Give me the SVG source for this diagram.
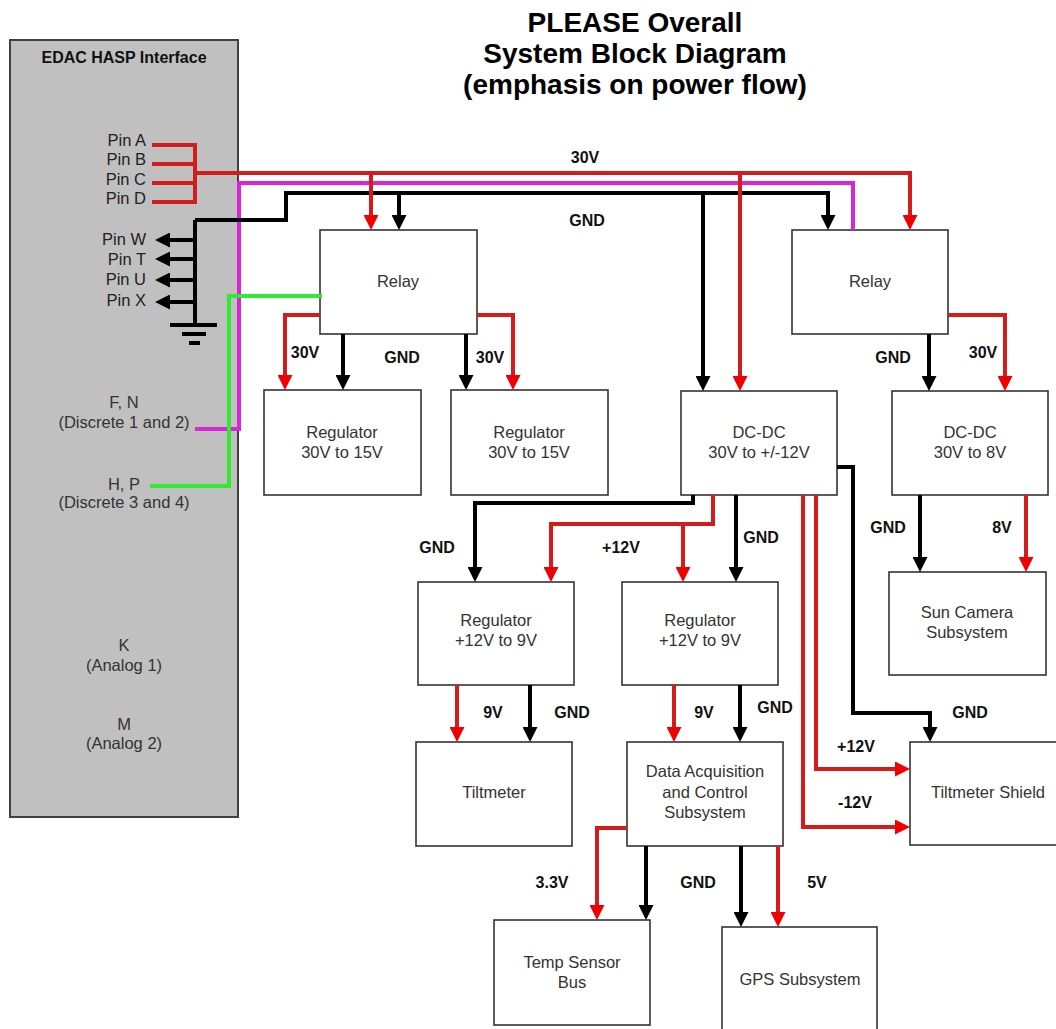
<svg xmlns="http://www.w3.org/2000/svg" width="1056" height="1029" viewBox="0 0 1056 1029">
<defs>
<style>
.box{fill:#fff;stroke:#333;stroke-width:1.6}
.edac{fill:#c0c0c0;stroke:#404040;stroke-width:2}
.bt{font-family:"Liberation Sans",Arial,sans-serif;font-size:16.5px;fill:#333;text-anchor:middle}
.lb{font-family:"Liberation Sans",Arial,sans-serif;font-size:16px;font-weight:bold;fill:#111;text-anchor:middle}
.title{font-family:"Liberation Sans",Arial,sans-serif;font-size:28px;font-weight:bold;fill:#000;text-anchor:middle}
.pin{font-family:"Liberation Sans",Arial,sans-serif;font-size:16.5px;fill:#222;text-anchor:end}
.r{fill:none;stroke:#d41c1c;stroke-width:4}
.k{fill:none;stroke:#000;stroke-width:4}
.m{fill:none;stroke:#d626d6;stroke-width:4}
.g{fill:none;stroke:#33e833;stroke-width:4}
.ra{marker-end:url(#ar)}
.ka{marker-end:url(#ak)}
</style>
<marker id="ar" markerUnits="userSpaceOnUse" markerWidth="15" markerHeight="15" viewBox="0 0 15 15" refX="3" refY="7.5" orient="auto"><path d="M0,0 L15,7.5 L0,15 z" fill="#f00000"/></marker>
<marker id="ak" markerUnits="userSpaceOnUse" markerWidth="15" markerHeight="15" viewBox="0 0 15 15" refX="3" refY="7.5" orient="auto"><path d="M0,0 L15,7.5 L0,15 z" fill="#000"/></marker>
</defs>
<rect width="1056" height="1029" fill="#fff"/>
<g id="title">
<text class="title" x="635" y="32">PLEASE Overall</text>
<text class="title" x="635" y="63">System Block Diagram</text>
<text class="title" x="635" y="94">(emphasis on power flow)</text>
</g>
<g id="edac">
<rect class="edac" x="10" y="40" width="228" height="777"/>
<text class="lb" x="124" y="63">EDAC HASP Interface</text>
<text class="pin" x="146" y="146">Pin A</text>
<text class="pin" x="146" y="165">Pin B</text>
<text class="pin" x="146" y="185">Pin C</text>
<text class="pin" x="146" y="204">Pin D</text>
<text class="pin" x="146" y="245">Pin W</text>
<text class="pin" x="146" y="265">Pin T</text>
<text class="pin" x="146" y="285">Pin U</text>
<text class="pin" x="146" y="306">Pin X</text>
<text class="bt" x="124" y="408">F, N</text>
<text class="bt" x="124" y="428">(Discrete 1 and 2)</text>
<text class="bt" x="124" y="490">H, P</text>
<text class="bt" x="124" y="508">(Discrete 3 and 4)</text>
<text class="bt" x="124" y="651">K</text>
<text class="bt" x="124" y="671">(Analog 1)</text>
<text class="bt" x="124" y="730">M</text>
<text class="bt" x="124" y="749">(Analog 2)</text>
</g>
<g id="relay-left"><rect class="box" x="320" y="230" width="157" height="104"/><text class="bt" x="398" y="287">Relay</text></g>
<g id="relay-right"><rect class="box" x="792" y="230" width="156" height="104"/><text class="bt" x="870" y="287">Relay</text></g>
<g id="reg-1"><rect class="box" x="264" y="390" width="157" height="105"/><text class="bt" x="342" y="438">Regulator</text><text class="bt" x="342" y="458">30V to 15V</text></g>
<g id="reg-2"><rect class="box" x="451" y="390" width="157" height="105"/><text class="bt" x="529" y="438">Regulator</text><text class="bt" x="529" y="458">30V to 15V</text></g>
<g id="dcdc-12"><rect class="box" x="681" y="391" width="156" height="104"/><text class="bt" x="759" y="438">DC-DC</text><text class="bt" x="759" y="458">30V to +/-12V</text></g>
<g id="dcdc-8"><rect class="box" x="892" y="391" width="156" height="104"/><text class="bt" x="970" y="438">DC-DC</text><text class="bt" x="970" y="458">30V to 8V</text></g>
<g id="sun-camera"><rect class="box" x="889" y="572" width="157" height="103"/><text class="bt" x="967" y="618">Sun Camera</text><text class="bt" x="967" y="638">Subsystem</text></g>
<g id="reg-12-1"><rect class="box" x="418" y="582" width="156" height="103"/><text class="bt" x="496" y="626">Regulator</text><text class="bt" x="496" y="646">+12V to 9V</text></g>
<g id="reg-12-2"><rect class="box" x="622" y="582" width="156" height="103"/><text class="bt" x="700" y="626">Regulator</text><text class="bt" x="700" y="646">+12V to 9V</text></g>
<g id="tiltmeter"><rect class="box" x="416" y="742" width="156" height="104"/><text class="bt" x="494" y="798">Tiltmeter</text></g>
<g id="daq"><rect class="box" x="627" y="742" width="156" height="104"/><text class="bt" x="705" y="777">Data Acquisition</text><text class="bt" x="705" y="798">and Control</text><text class="bt" x="705" y="818">Subsystem</text></g>
<g id="tilt-shield"><rect class="box" x="910" y="742" width="156" height="103"/><text class="bt" x="988" y="798">Tiltmeter Shield</text></g>
<g id="temp-bus"><rect class="box" x="494" y="920" width="156" height="105"/><text class="bt" x="572" y="968">Temp Sensor</text><text class="bt" x="572" y="988">Bus</text></g>
<g id="gps"><rect class="box" x="722" y="927" width="155" height="110"/><text class="bt" x="800" y="985">GPS Subsystem</text></g>
<g id="connectors">
<path class="m" d="M853,230 V183 H239 V429 H195"/>
<path class="g" d="M322,296 H229 V486 H150"/>
<path class="k" d="M195,220 V325"/>
<path class="k" d="M170,325 H217 M182,334 H206 M189,343 H200"/>
<path class="k ka" d="M195,220 H286 V193 H828 V218"/>
<path class="k ka" d="M399,193 V218"/>
<path class="k ka" d="M703,193 V379"/>
<path class="k ka" d="M195,240 H167"/>
<path class="k ka" d="M195,259 H167"/>
<path class="k ka" d="M195,280 H167"/>
<path class="k ka" d="M195,302 H167"/>
<path class="k ka" d="M343,334 V378"/>
<path class="k ka" d="M466,334 V378"/>
<path class="k ka" d="M929,334 V379"/>
<path class="k ka" d="M920,495 V560"/>
<path class="k ka" d="M693,495 V503 H475 V570"/>
<path class="k ka" d="M736,495 V570"/>
<path class="k ka" d="M837,467 H853 V713 H930 V730"/>
<path class="k ka" d="M530,685 V730"/>
<path class="k ka" d="M740,685 V730"/>
<path class="k ka" d="M646,846 V908"/>
<path class="k ka" d="M741,846 V915"/>
<path class="r" d="M152,145 H195 M152,164 H195 M152,183 H195 M152,202 H195 M195,143 V204"/>
<path class="r ra" d="M195,173 H910 V218"/>
<path class="r ra" d="M371,173 V218"/>
<path class="r ra" d="M740,173 V379"/>
<path class="r ra" d="M320,315 H285 V378"/>
<path class="r ra" d="M477,315 H513 V378"/>
<path class="r ra" d="M948,315 H1005 V379"/>
<path class="r ra" d="M1026,495 V560"/>
<path class="r ra" d="M713,495 V524 H551 V570"/>
<path class="r ra" d="M683,524 V570"/>
<path class="r ra" d="M816,495 V769 H898"/>
<path class="r ra" d="M803,495 V827 H898"/>
<path class="r ra" d="M457,685 V730"/>
<path class="r ra" d="M674,685 V730"/>
<path class="r ra" d="M627,828 H597 V908"/>
<path class="r ra" d="M778,846 V915"/>
</g>
<g id="labels">
<text class="lb" x="585" y="163">30V</text>
<text class="lb" x="587" y="226">GND</text>
<text class="lb" x="305" y="358">30V</text>
<text class="lb" x="402" y="363">GND</text>
<text class="lb" x="490" y="363">30V</text>
<text class="lb" x="893" y="363">GND</text>
<text class="lb" x="983" y="358">30V</text>
<text class="lb" x="888" y="533">GND</text>
<text class="lb" x="1002" y="533">8V</text>
<text class="lb" x="761" y="543">GND</text>
<text class="lb" x="437" y="553">GND</text>
<text class="lb" x="621" y="553">+12V</text>
<text class="lb" x="493" y="718">9V</text>
<text class="lb" x="572" y="718">GND</text>
<text class="lb" x="704" y="718">9V</text>
<text class="lb" x="775" y="713">GND</text>
<text class="lb" x="856" y="752">+12V</text>
<text class="lb" x="855" y="808">-12V</text>
<text class="lb" x="970" y="718">GND</text>
<text class="lb" x="552" y="888">3.3V</text>
<text class="lb" x="698" y="888">GND</text>
<text class="lb" x="817" y="888">5V</text>
</g>
</svg>
